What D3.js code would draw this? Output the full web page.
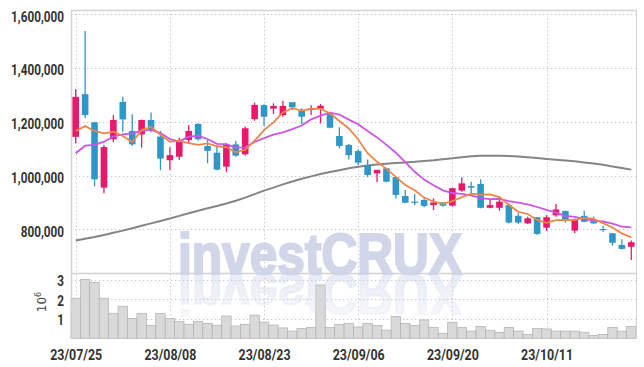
<!DOCTYPE html>
<html>
<head>
<meta charset="utf-8">
<script src="https://cdn.jsdelivr.net/npm/d3@7"></script>
<style>
  body { margin: 0; background: #fff; }
  svg { display: block; }
  .lbl { font-family: Roboto, "DejaVu Sans", sans-serif; font-weight: bold; font-size: 15px; fill: #333; }
</style>
</head>
<body>
<script>
var width = 644,
	height = 367,
	colorUp = "#e8196a",
	colorDown = "#2f96c8",
	colorMa5 = "#ef8648",
	colorMa10 = "#cc55e8",
	colorMa60 = "#858585";

// trading days shown on the chart
var dates = ["23/07/25","23/07/26","23/07/27","23/07/28","23/07/31","23/08/01","23/08/02","23/08/03","23/08/04","23/08/07",
	"23/08/08","23/08/09","23/08/10","23/08/11","23/08/14","23/08/16","23/08/17","23/08/18","23/08/21","23/08/22",
	"23/08/23","23/08/24","23/08/25","23/08/28","23/08/29","23/08/30","23/08/31","23/09/01","23/09/04","23/09/05",
	"23/09/06","23/09/07","23/09/08","23/09/11","23/09/12","23/09/13","23/09/14","23/09/15","23/09/18","23/09/19",
	"23/09/20","23/09/21","23/09/22","23/09/25","23/09/26","23/09/27","23/10/04","23/10/05","23/10/06","23/10/10",
	"23/10/11","23/10/12","23/10/13","23/10/16","23/10/17","23/10/18","23/10/19","23/10/20","23/10/23","23/10/24"];

var opens = [1144000,1303000,1198000,955000,1135000,1274000,1166000,1153000,1207000,1145000,
	1057000,1070000,1132000,1192000,1110000,1085000,1033000,1116000,1079000,1210000,
	1262000,1249000,1225000,1273000,1241000,1244000,1249000,1234000,1147000,1114000,
	1091000,1039000,1008000,1027000,994000,924000,903000,909000,890000,900000,
	888000,944000,961000,969000,880000,880000,890000,850000,822000,845000,
	806000,852000,868000,795000,850000,838000,801000,785000,742000,735000];
var highs = [1321000,1538000,1200000,1114000,1225000,1293000,1228000,1208000,1235000,1166000,
	1105000,1141000,1188000,1195000,1132000,1111000,1120000,1129000,1182000,1271000,
	1265000,1269000,1278000,1273000,1250000,1262000,1266000,1236000,1180000,1117000,
	1098000,1060000,1022000,1028000,996000,946000,931000,915000,915000,901000,
	955000,994000,977000,986000,912000,915000,897000,860000,847000,846000,
	853000,894000,870000,840000,869000,847000,812000,786000,763000,758000];
var lows = [1120000,1214000,960000,934000,1124000,1163000,1110000,1104000,1160000,1020000,
	1021000,1058000,1120000,1130000,1046000,1020000,1014000,1070000,1075000,1204000,
	1184000,1229000,1219000,1244000,1191000,1225000,1194000,1176000,1101000,1060000,
	1039000,994000,975000,975000,915000,897000,890000,882000,872000,884000,
	885000,940000,928000,878000,878000,869000,822000,820000,820000,779000,
	794000,847000,825000,785000,826000,820000,791000,739000,725000,686000];
var closes = [1293000,1225000,986000,1106000,1207000,1209000,1116000,1207000,1166000,1063000,
	1076000,1132000,1166000,1135000,1092000,1022000,1114000,1074000,1176000,1263000,
	1219000,1259000,1259000,1254000,1219000,1250000,1260000,1178000,1110000,1076000,
	1048000,1002000,1021000,977000,928000,899000,899000,887000,900000,888000,
	953000,971000,955000,880000,890000,903000,825000,825000,841000,783000,
	845000,874000,832000,838000,828000,822000,797000,750000,727000,752000];

// moving averages as drawn on the chart
var ma5 = [1166000,1184000,1166000,1157000,1163000,1147000,1125000,1169000,1181000,1152000,
	1126000,1129000,1121000,1114000,1120000,1109000,1106000,1087000,1096000,1130000,
	1169000,1198000,1235000,1251000,1242000,1248000,1248000,1232000,1203000,1175000,
	1134000,1083000,1051000,1025000,995000,965000,945000,918000,903000,895000,
	905000,920000,933000,929000,930000,920000,891000,865000,857000,835000,
	824000,834000,835000,834000,843000,839000,823000,807000,785000,770000];
var ma10 = [1083000,1111000,1114000,1126000,1145000,1153000,1157000,1166000,1170000,1158000,
	1136000,1127000,1145000,1148000,1136000,1118000,1117000,1104000,1105000,1125000,
	1139000,1152000,1161000,1173000,1186000,1209000,1223000,1234000,1227000,1208000,
	1191000,1166000,1142000,1114000,1085000,1050000,1014000,985000,964000,945000,
	935000,932000,926000,916000,912000,913000,905000,899000,893000,883000,
	872000,862000,850000,846000,839000,831000,829000,821000,810000,807000];
var ma60 = [758000,765000,771000,779000,787000,795000,804000,813000,822000,831000,
	840000,850000,860000,869000,878000,887000,896000,906000,918000,931000,
	944000,955000,967000,978000,988000,997000,1006000,1013000,1020000,1027000,
	1033000,1037000,1041000,1044000,1047000,1049000,1051000,1054000,1057000,1061000,
	1064000,1068000,1072000,1074000,1074000,1074000,1073000,1071000,1068000,1065000,
	1062000,1059000,1056000,1053000,1049000,1045000,1040000,1034000,1028000,1022000];

var volume = [2050000,3020000,2860000,2050000,1280000,1640000,1020000,1280000,660000,1280000,
	1020000,870000,720000,870000,770000,670000,1140000,630000,720000,1190000,
	830000,680000,530000,370000,510000,560000,2730000,560000,720000,770000,
	580000,770000,660000,420000,1120000,770000,660000,940000,560000,260000,
	820000,560000,370000,610000,410000,310000,560000,370000,200000,510000,
	480000,370000,370000,370000,310000,150000,200000,560000,370000,610000];

var priceTicks = [800000, 1000000, 1200000, 1400000, 1600000];
var volumeTicks = [1, 2, 3];
var dateTicks = [0, 10, 20, 30, 40, 50];

var plotLeft = 71, plotRight = 636, plotTop = 10, plotSplit = 273, plotBottom = 338.3;

var svg = d3.select("body").append("svg")
	.attr("width", width)
	.attr("height", height);

var x = d3.scaleLinear().domain([-0.5, dates.length - 0.5]).range([plotLeft, plotRight]);
var step = x(1) - x(0);
var y = d3.scaleLinear().domain([637400, 1616000]).range([plotSplit, plotTop]);
var yv = d3.scaleLinear().domain([0, 3.34]).range([plotBottom, plotSplit]);

var defs = svg.append("defs");
defs.append("clipPath").attr("id", "priceClip")
	.append("rect").attr("x", plotLeft).attr("y", plotTop).attr("width", plotRight - plotLeft).attr("height", plotSplit - plotTop);
var fade = defs.append("linearGradient").attr("id", "fade")
	.attr("x1", 0).attr("y1", 0).attr("x2", 0).attr("y2", 1);
fade.append("stop").attr("offset", "0%").attr("stop-color", "#d3d9eb").attr("stop-opacity", 0.15);
fade.append("stop").attr("offset", "100%").attr("stop-color", "#d3d9eb").attr("stop-opacity", 0.95);

// grid lines
var grid = svg.append("g").attr("stroke", "#c4c4cc").attr("stroke-dasharray", "1.3,2.7").attr("stroke-width", 1);
grid.selectAll(".hp").data(priceTicks).enter().append("line")
	.attr("x1", plotLeft).attr("x2", plotRight)
	.attr("y1", function(d) { return Math.round(y(d)) + 0.5; })
	.attr("y2", function(d) { return Math.round(y(d)) + 0.5; });
grid.selectAll(".hv").data(volumeTicks).enter().append("line")
	.attr("x1", plotLeft).attr("x2", plotRight)
	.attr("y1", function(d) { return Math.round(yv(d)) + 0.5; })
	.attr("y2", function(d) { return Math.round(yv(d)) + 0.5; });
grid.selectAll(".vx").data(dateTicks).enter().append("line")
	.attr("x1", function(d) { return Math.round(x(d)) + 0.5; })
	.attr("x2", function(d) { return Math.round(x(d)) + 0.5; })
	.attr("y1", plotTop).attr("y2", plotBottom);

// volume bars
svg.append("g").selectAll("rect").data(volume).enter().append("rect")
	.attr("x", function(d, i) { return x(i - 0.5); })
	.attr("width", step)
	.attr("y", function(d) { return yv(d / 1e6); })
	.attr("height", function(d) { return plotBottom - yv(d / 1e6); })
	.attr("fill", "#d9d9d9")
	.attr("stroke", "#b0b0b0")
	.attr("stroke-width", 0.7);

// frame
var frame = svg.append("g").attr("stroke", "#d2d2d2").attr("fill", "none");
frame.append("line").attr("x1", plotLeft).attr("x2", plotRight).attr("y1", plotTop + 0.5).attr("y2", plotTop + 0.5).attr("stroke-width", 1.5);
frame.append("line").attr("x1", plotLeft).attr("x2", plotRight).attr("y1", plotSplit + 0.5).attr("y2", plotSplit + 0.5).attr("stroke-width", 1.5);
frame.append("line").attr("x1", plotLeft + 0.5).attr("x2", plotLeft + 0.5).attr("y1", plotTop).attr("y2", plotBottom).attr("stroke-width", 1.5);
frame.append("line").attr("x1", plotRight + 0.5).attr("x2", plotRight + 0.5).attr("y1", plotTop).attr("y2", plotBottom).attr("stroke-width", 1);

var plot = svg.append("g").attr("clip-path", "url(#priceClip)");

function maLine(values) {
	return d3.line()
		.x(function(d, i) { return x(i); })
		.y(function(d) { return y(d); })(values);
}

plot.append("path").attr("d", maLine(ma60))
	.attr("fill", "none").attr("stroke", colorMa60).attr("stroke-width", 2);

// candles
var candles = plot.append("g").selectAll("g").data(closes).enter().append("g")
	.attr("fill", function(d, i) { return d >= opens[i] ? colorUp : colorDown; })
	.attr("stroke", function(d, i) { return d >= opens[i] ? colorUp : colorDown; });
candles.append("line")
	.attr("x1", function(d, i) { return x(i); })
	.attr("x2", function(d, i) { return x(i); })
	.attr("y1", function(d, i) { return y(highs[i]); })
	.attr("y2", function(d, i) { return y(lows[i]); })
	.attr("stroke-width", 1.3);
candles.append("rect")
	.attr("x", function(d, i) { return x(i) - 3.3; })
	.attr("width", 6.6)
	.attr("y", function(d, i) { return y(Math.max(d, opens[i])); })
	.attr("height", function(d, i) { return Math.max(1.2, Math.abs(y(d) - y(opens[i]))); })
	.attr("stroke", "none");

plot.append("path").attr("d", maLine(ma10))
	.attr("fill", "none").attr("stroke", colorMa10).attr("stroke-width", 1.8);
plot.append("path").attr("d", maLine(ma5))
	.attr("fill", "none").attr("stroke", colorMa5).attr("stroke-width", 1.8);

// watermark and its reflection
var mark = svg.append("g").attr("font-family", "Liberation Sans, Arial, sans-serif").attr("font-weight", "bold");
mark.append("text").attr("x", 178).attr("y", 274)
	.attr("font-size", 57).attr("textLength", 284).attr("lengthAdjust", "spacingAndGlyphs")
	.attr("fill", "#c9d0e6").attr("stroke", "#c9d0e6").attr("stroke-width", 2.2)
	.attr("opacity", 0.85)
	.text("investCRUX");
mark.append("text").attr("x", 178).attr("y", -274)
	.attr("transform", "scale(1,-1)")
	.attr("font-size", 57).attr("textLength", 284).attr("lengthAdjust", "spacingAndGlyphs")
	.attr("fill", "url(#fade)").attr("stroke", "url(#fade)").attr("stroke-width", 2.2)
	.attr("opacity", 0.6)
	.text("investCRUX");

// squeeze the axis labels horizontally so they match the narrow face of the original
function narrow(sel, target, pad) {
	var w = 0;
	sel.each(function() { w = Math.max(w, this.getComputedTextLength()); });
	var s = target / w;
	sel.attr("transform", "scale(" + s + ",1)");
	if (pad !== null) sel.attr("x", -pad / s);
	return s;
}

var yAxis = svg.append("g").attr("transform", "translate(" + plotLeft + ",0)")
	.call(d3.axisLeft(y).tickValues(priceTicks).tickFormat(d3.format(",")).tickSize(0).tickPadding(7));
yAxis.select(".domain").remove();
var yText = yAxis.selectAll("text").attr("class", "lbl").attr("dy", "0.45em");
var ys = narrow(yText, 53, 7);

var vAxis = svg.append("g").attr("transform", "translate(" + plotLeft + ",0)")
	.call(d3.axisLeft(yv).tickValues(volumeTicks).tickFormat(d3.format("d")).tickSize(0).tickPadding(7));
vAxis.select(".domain").remove();
vAxis.selectAll("text").attr("class", "lbl").attr("dy", "0.4em")
	.attr("transform", "scale(" + ys + ",1)").attr("x", -7 / ys);

var unit = svg.append("text")
	.attr("transform", "translate(46,302) rotate(-90)")
	.attr("text-anchor", "middle")
	.attr("font-family", "DejaVu Sans, sans-serif")
	.attr("font-size", 12)
	.attr("fill", "#444");
unit.append("tspan").text("10");
unit.append("tspan").attr("dy", -5).attr("font-size", 8).text("6");

var xAxis = svg.append("g").attr("transform", "translate(0," + plotBottom + ")")
	.call(d3.axisBottom(x).tickValues(dateTicks).tickFormat(function(d) { return dates[d]; }).tickSize(0).tickPadding(8));
xAxis.select(".domain").remove();
var xText = xAxis.selectAll("text").attr("class", "lbl").attr("dy", "0.9em");
narrow(xText, 52, null);
</script>
</body>
</html>
